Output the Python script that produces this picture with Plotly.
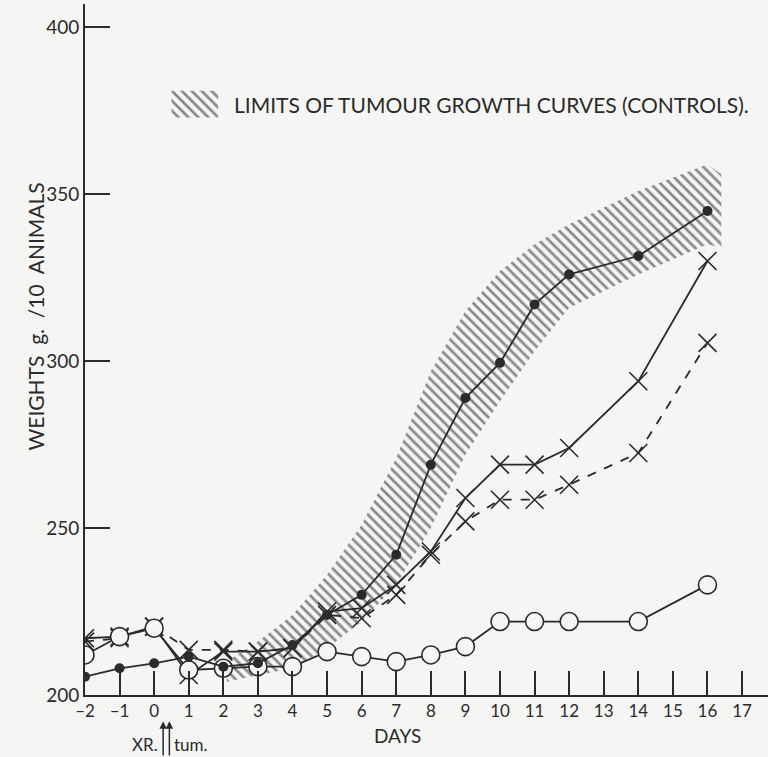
import plotly.graph_objects as go

# ---- data ----
days = [-2, -1, 0, 1, 2, 3, 4, 5, 6, 7, 8, 9, 10, 11, 12, 14, 16]
filled_dots = [205.5, 208, 209.5, 211.5, 208.5, 209.5, 215, 224, 230, 242, 269, 289, 299.5, 317, 326, 331.5, 345]
cross_solid = [217, 217.5, 220.5, 206, 213, 213, 214, 225, 226, 233, 243, 259, 269, 269, 274, 294, 330]
cross_dashed = [216, 217, 220.5, 213.5, 213.5, 213, 214, 224, 223, 230, 242, 252, 258.5, 258.5, 263, 272.5, 305.5]
open_circles = [212, 217.5, 220, 207.5, 208, 208.5, 208.5, 213, 211.5, 210, 212, 214.5, 222, 222, 222, 222, 233]

band_days = [2.1, 3, 4, 5, 6, 7, 8, 9, 10, 11, 12, 14, 16, 16.4]
band_upper = [210, 216, 224, 236, 251, 271, 297, 315, 327, 335, 341, 351, 359, 356]
band_lower = [204, 206, 208, 214, 222, 233, 250, 272, 288, 303, 316, 326, 335, 334]

tick_days = list(range(-2, 18))
tick_text = [("\u2013" + str(-d)) if d < 0 else str(d) for d in tick_days]
y_ticks = [200, 250, 300, 350, 400]

legend_text = "LIMITS OF TUMOUR GROWTH CURVES (CONTROLS)."
legend_swatch_x = [0.5, 1.85, 1.85, 0.5]
legend_swatch_y = [381, 381, 373, 373]

INK = "#2b2b2b"
BG = "#f5f5f3"
FONT = "Lato"
HATCH = dict(shape="\\", size=7, solidity=0.38, fgcolor="#1e1e1e", bgcolor="rgba(0,0,0,0)")

fig = go.Figure()

# hatched control band
fig.add_trace(go.Scatter(
    x=band_days + band_days[::-1],
    y=band_upper + band_lower[::-1],
    fill="toself", mode="lines", line=dict(width=0, color="rgba(0,0,0,0)"),
    fillcolor="rgba(0,0,0,0)", fillpattern=HATCH,
    hoverinfo="skip", showlegend=False))

# legend swatch
fig.add_trace(go.Scatter(
    x=legend_swatch_x, y=legend_swatch_y,
    fill="toself", mode="lines", line=dict(width=0, color="rgba(0,0,0,0)"),
    fillcolor="rgba(0,0,0,0)", fillpattern=HATCH,
    hoverinfo="skip", showlegend=False))

fig.add_trace(go.Scatter(
    x=days, y=cross_dashed, mode="lines+markers",
    line=dict(color=INK, width=1.8, dash="dash"),
    marker=dict(symbol="x-thin", size=18, line=dict(width=1.6, color=INK), color=INK),
    showlegend=False))

fig.add_trace(go.Scatter(
    x=days, y=cross_solid, mode="lines+markers",
    line=dict(color=INK, width=1.8),
    marker=dict(symbol="x-thin", size=18, line=dict(width=1.6, color=INK), color=INK),
    showlegend=False))

fig.add_trace(go.Scatter(
    x=days, y=open_circles, mode="lines+markers",
    line=dict(color=INK, width=1.8),
    marker=dict(symbol="circle", size=18, color=BG, line=dict(width=1.6, color=INK)),
    showlegend=False))

fig.add_trace(go.Scatter(
    x=days, y=filled_dots, mode="lines+markers",
    line=dict(color=INK, width=1.8),
    marker=dict(symbol="circle", size=10, color=INK),
    showlegend=False))

annotations = [
    dict(text=legend_text, x=2.25, y=377, xref="x", yref="y", xanchor="left", yanchor="middle",
         showarrow=False, font=dict(family=FONT, size=21, color=INK)),
    dict(text="WEIGHTS  g.  /10  ANIMALS", x=-0.073, y=0.548, xref="paper", yref="paper",
         xanchor="center", yanchor="middle",
         textangle=-90, showarrow=False, font=dict(family=FONT, size=21, color=INK)),
    dict(text="DAYS", x=7.05, y=-0.058, xref="x", yref="paper", xanchor="center", yanchor="middle",
         showarrow=False, font=dict(family=FONT, size=19, color=INK)),
    dict(text="XR.", x=0.18, y=-0.072, xref="x", yref="paper", xanchor="right", yanchor="middle",
         showarrow=False, font=dict(family=FONT, size=17, color=INK)),
    dict(text="tum.", x=0.52, y=-0.072, xref="x", yref="paper", xanchor="left", yanchor="middle",
         showarrow=False, font=dict(family=FONT, size=17, color=INK)),
    dict(text="", x=0.26, y=-0.038, xref="x", yref="paper", showarrow=True, ax=0, ay=36,
         arrowhead=2, arrowsize=1, arrowwidth=1.5, arrowcolor=INK),
    dict(text="", x=0.44, y=-0.038, xref="x", yref="paper", showarrow=True, ax=0, ay=36,
         arrowhead=2, arrowsize=1, arrowwidth=1.5, arrowcolor=INK),
]

fig.update_layout(
    width=768, height=757,
    margin=dict(l=85, r=0, t=4, b=62),
    paper_bgcolor=BG, plot_bgcolor=BG,
    showlegend=False,
    annotations=annotations,
    font=dict(family=FONT, color=INK),
)
fig.update_xaxes(
    range=[-2, 17.75], tickvals=tick_days, ticktext=tick_text,
    ticks="inside", ticklen=24, tickwidth=1.5, tickcolor=INK,
    showline=True, linecolor=INK, linewidth=2,
    showgrid=False, zeroline=False,
    tickfont=dict(family=FONT, size=17, color=INK))
fig.update_yaxes(
    range=[200, 407], tickvals=y_ticks,
    ticks="inside", ticklen=25, tickwidth=1.5, tickcolor=INK,
    showline=True, linecolor=INK, linewidth=2,
    showgrid=False, zeroline=False,
    tickfont=dict(family=FONT, size=19, color=INK))

fig.write_html("out.html")
